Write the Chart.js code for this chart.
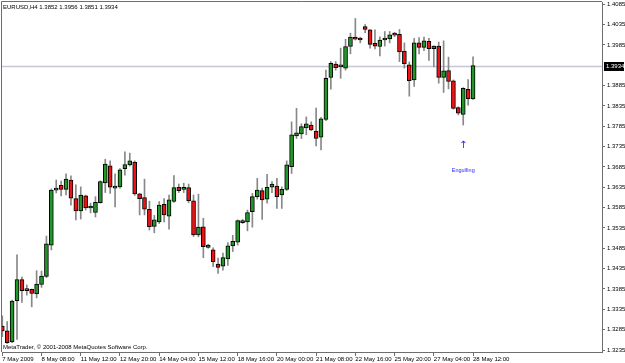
<!DOCTYPE html>
<html>
<head>
<meta charset="utf-8">
<script src="https://cdn.jsdelivr.net/npm/chart.js@4"></script>
<style>
  html, body { margin: 0; padding: 0; background: #fff; }
  #wrap { width: 625px; height: 363px; }
</style>
</head>
<body>
<div id="wrap"><canvas id="chart" width="625" height="363"></canvas></div>
<script>
    // EURUSD H4, one entry per bar, oldest first
    var opens = [
        1.3294, 1.3282, 1.3255, 1.3356, 1.3408, 1.3381, 1.3384, 1.3373, 1.3396, 1.3416,
        1.3493, 1.3628, 1.3640, 1.3630, 1.3653, 1.3607, 1.3577, 1.3614, 1.3584, 1.3573,
        1.3597, 1.3646, 1.3688, 1.3633, 1.3636, 1.3681, 1.3690, 1.3697, 1.3619, 1.3610,
        1.3581, 1.3539, 1.3550, 1.3593, 1.3564, 1.3600, 1.3635, 1.3630, 1.3634, 1.3602,
        1.3518, 1.3538, 1.3487, 1.3481, 1.3446, 1.3441, 1.3459, 1.3491, 1.3500, 1.3553,
        1.3550, 1.3575, 1.3612, 1.3627, 1.3606, 1.3635, 1.3638, 1.3616, 1.3630, 1.3686,
        1.3761, 1.3766, 1.3781, 1.3788, 1.3773, 1.3758, 1.3802, 1.3905, 1.3938, 1.3931,
        1.3928, 1.3981, 1.4004, 1.4002, 1.4030, 1.4022, 1.3989, 1.3981, 1.3997, 1.4000,
        1.4014, 1.4011, 1.3970, 1.3936, 1.3899, 1.3990, 1.3979, 1.3994, 1.3976, 1.3982,
        1.3905, 1.3922, 1.3897, 1.3831, 1.3814, 1.3876, 1.3852
    ];
    var highs = [
        1.3319, 1.3305, 1.3358, 1.3469, 1.3414, 1.3395, 1.3385, 1.3430, 1.3429, 1.3515,
        1.3631, 1.3653, 1.3650, 1.3668, 1.3663, 1.3641, 1.3636, 1.3616, 1.3596, 1.3612,
        1.3651, 1.3704, 1.3700, 1.3668, 1.3681, 1.3722, 1.3719, 1.3700, 1.3620, 1.3655,
        1.3601, 1.3566, 1.3600, 1.3607, 1.3616, 1.3664, 1.3643, 1.3645, 1.3643, 1.3616,
        1.3618, 1.3559, 1.3495, 1.3486, 1.3461, 1.3473, 1.3499, 1.3517, 1.3555, 1.3556,
        1.3579, 1.3620, 1.3657, 1.3633, 1.3667, 1.3649, 1.3657, 1.3636, 1.3700, 1.3796,
        1.3829, 1.3791, 1.3808, 1.3796, 1.3830, 1.3807, 1.3923, 1.3944, 1.3944, 1.3977,
        1.3999, 1.4014, 1.4050, 1.4004, 1.4035, 1.4023, 1.4022, 1.4005, 1.4018, 1.4018,
        1.4016, 1.4023, 1.3990, 1.3943, 1.4001, 1.4003, 1.4004, 1.4001, 1.3983, 1.3992,
        1.3995, 1.3955, 1.3899, 1.3833, 1.3880, 1.3900, 1.3956
    ];
    var lows = [
        1.3268, 1.3251, 1.3253, 1.3261, 1.3352, 1.3370, 1.3341, 1.3363, 1.3389, 1.3413,
        1.3481, 1.3621, 1.3614, 1.3616, 1.3591, 1.3555, 1.3557, 1.3579, 1.3572, 1.3562,
        1.3596, 1.3622, 1.3620, 1.3587, 1.3633, 1.3665, 1.3687, 1.3615, 1.3567, 1.3567,
        1.3530, 1.3523, 1.3546, 1.3550, 1.3532, 1.3598, 1.3622, 1.3622, 1.3597, 1.3514,
        1.3513, 1.3462, 1.3485, 1.3440, 1.3423, 1.3431, 1.3443, 1.3477, 1.3493, 1.3546,
        1.3528, 1.3537, 1.3606, 1.3556, 1.3596, 1.3622, 1.3583, 1.3583, 1.3627, 1.3669,
        1.3755, 1.3755, 1.3764, 1.3774, 1.3737, 1.3727, 1.3799, 1.3876, 1.3923, 1.3903,
        1.3923, 1.3963, 1.3997, 1.3990, 1.4015, 1.3977, 1.3975, 1.3958, 1.3982, 1.3990,
        1.4005, 1.3944, 1.3928, 1.3859, 1.3883, 1.3963, 1.3971, 1.3947, 1.3931, 1.3891,
        1.3868, 1.3877, 1.3827, 1.3813, 1.3788, 1.3837, 1.3851
    ];
    var closes = [
        1.3282, 1.3253, 1.3355, 1.3408, 1.3381, 1.3384, 1.3374, 1.3397, 1.3417, 1.3496,
        1.3628, 1.3631, 1.3630, 1.3655, 1.3608, 1.3577, 1.3616, 1.3584, 1.3585, 1.3598,
        1.3649, 1.3692, 1.3635, 1.3636, 1.3678, 1.3691, 1.3700, 1.3619, 1.3607, 1.3581,
        1.3538, 1.3555, 1.3591, 1.3567, 1.3604, 1.3634, 1.3627, 1.3634, 1.3602, 1.3518,
        1.3537, 1.3489, 1.3493, 1.3452, 1.3438, 1.3462, 1.3491, 1.3502, 1.3553, 1.3548,
        1.3573, 1.3612, 1.3628, 1.3604, 1.3635, 1.3643, 1.3612, 1.3630, 1.3690, 1.3764,
        1.3769, 1.3784, 1.3791, 1.3776, 1.3755, 1.3803, 1.3903, 1.3940, 1.3929, 1.3932,
        1.3981, 1.4004, 1.3999, 1.3997, 1.4023, 1.3986, 1.3982, 1.3997, 1.4001, 1.4010,
        1.4009, 1.3968, 1.3939, 1.3897, 1.3990, 1.3979, 1.3995, 1.3976, 1.3982, 1.3905,
        1.3921, 1.3895, 1.3829, 1.3817, 1.3878, 1.3853, 1.3934
    ];

    // one time label every 8 bars
    var timeLabels = ["7 May 2009", "8 May 08:00", "11 May 12:00", "12 May 20:00", "14 May 04:00",
        "15 May 12:00", "18 May 16:00", "20 May 00:00", "21 May 08:00", "22 May 16:00",
        "25 May 20:00", "27 May 04:00", "28 May 12:00"];
    var priceTicks = [1.4085, 1.4035, 1.3985, 1.3885, 1.3835, 1.3785, 1.3735, 1.3685, 1.3635,
        1.3585, 1.3535, 1.3485, 1.3435, 1.3385, 1.3335, 1.3285, 1.3235];

    var symbol = "EURUSD,H4";
    var bidPrice = 1.3934;
    var signalBar = 94;
    var signalArrowPrice = 1.3739;
    var signalTextPrice = 1.3677;
    var signalText = "Engulfing";
    var copyright = "MetaTrader, \u00a9 2001-2008 MetaQuotes Software Corp.";

    var last = opens.length - 1;
    var header = symbol + " " + [opens[last], highs[last], lows[last], closes[last]].map(function (v) { return v.toFixed(4); }).join(" ");
    var font = "Liberation Sans, Arial, sans-serif";

    var wickData = lows.map(function (l, i) { return { x: i, y: [l, highs[i]] }; });
    var bodyData = opens.map(function (o, i) { return { x: i, y: [o, closes[i]] }; });
    var bodyColors = opens.map(function (o, i) { return closes[i] > o ? '#22962a' : '#ee1212'; });

    var overlay = {
        id: 'overlay',
        beforeDatasetsDraw: function (chart) {
            var ctx = chart.ctx, a = chart.chartArea;
            var by = Math.round(chart.scales.y.getPixelForValue(bidPrice)) + 0.5;
            ctx.save();
            ctx.strokeStyle = '#c6c8d8';
            ctx.lineWidth = 1.5;
            ctx.beginPath();
            ctx.moveTo(a.left, by);
            ctx.lineTo(a.right, by);
            ctx.stroke();
            ctx.restore();
        },
        afterDraw: function (chart) {
            var ctx = chart.ctx, a = chart.chartArea;
            var xs = chart.scales.x, ys = chart.scales.y;
            ctx.save();
            // frame
            ctx.strokeStyle = '#6e6e6e';
            ctx.lineWidth = 1;
            ctx.beginPath();
            ctx.moveTo(a.left - 0.5, a.bottom);
            ctx.lineTo(a.left - 0.5, a.top - 0.5);
            ctx.lineTo(a.right, a.top - 0.5);
            ctx.stroke();

            // bid price box
            var by = Math.round(ys.getPixelForValue(bidPrice));
            ctx.fillStyle = '#000';
            ctx.fillRect(a.right + 2, by - 4, 20, 9);
            ctx.fillStyle = '#fff';
            ctx.font = '6px ' + font;
            ctx.textBaseline = 'middle';
            ctx.textAlign = 'left';
            ctx.fillText(bidPrice.toFixed(4), a.right + 4, by + 0.5);

            // header and footer
            ctx.fillStyle = '#000';
            ctx.fillText(header, 3, 7);
            ctx.fillText(copyright, 3, a.bottom - 5);

            // signal
            var sx = xs.getPixelForValue(signalBar);
            ctx.fillStyle = '#2626ff';
            ctx.textAlign = 'center';
            ctx.font = '10px DejaVu Sans';
            ctx.fillText("\u2191", sx, ys.getPixelForValue(signalArrowPrice));
            ctx.font = '5.5px ' + font;
            ctx.fillText(signalText, sx, ys.getPixelForValue(signalTextPrice));
            ctx.restore();
        }
    };

    new Chart(document.getElementById('chart'), {
        type: 'bar',
        data: {
            datasets: [{
                data: bodyData,
                backgroundColor: bodyColors,
                borderColor: '#000',
                borderWidth: 1,
                borderSkipped: false,
                barThickness: 4,
                minBarLength: 2,
                grouped: false,
                order: 1
            }, {
                data: wickData,
                backgroundColor: '#888',
                barThickness: 1,
                grouped: false,
                order: 2
            }]
        },
        options: {
            responsive: false,
            animation: false,
            layout: { padding: { left: 2, top: 2, right: 0, bottom: 0 } },
            plugins: {
                legend: { display: false },
                tooltip: { enabled: false }
            },
            scales: {
                x: {
                    type: 'linear',
                    offset: false,
                    min: -0.06,
                    max: 122.3,
                    afterBuildTicks: function (s) {
                        s.ticks = timeLabels.map(function (t, k) { return { value: k * 8 }; });
                    },
                    afterFit: function (s) {
                        s.height = 11;
                        s.paddingLeft = 0;
                        s.paddingRight = 0;
                    },
                    ticks: {
                        autoSkip: false,
                        maxRotation: 0,
                        align: 'start',
                        padding: 0,
                        color: '#000',
                        font: { family: font, size: 6 },
                        callback: function (v) { return timeLabels[Math.round(v / 8)]; }
                    },
                    grid: { drawOnChartArea: false, offset: false, tickLength: 4, color: '#6e6e6e' },
                    border: { color: '#6e6e6e' }
                },
                y: {
                    position: 'right',
                    min: 1.32301,
                    max: 1.40905,
                    afterBuildTicks: function (s) {
                        s.ticks = priceTicks.map(function (v) { return { value: v }; });
                    },
                    afterFit: function (s) {
                        s.width = 23;
                        s.paddingTop = 0;
                        s.paddingBottom = 0;
                    },
                    ticks: {
                        padding: 2,
                        color: '#000',
                        font: { family: font, size: 6 },
                        callback: function (v) { return v.toFixed(4); }
                    },
                    grid: { drawOnChartArea: false, tickLength: 3, color: '#6e6e6e' },
                    border: { color: '#6e6e6e' }
                }
            }
        },
        plugins: [overlay]
    });
</script>
</body>
</html>
